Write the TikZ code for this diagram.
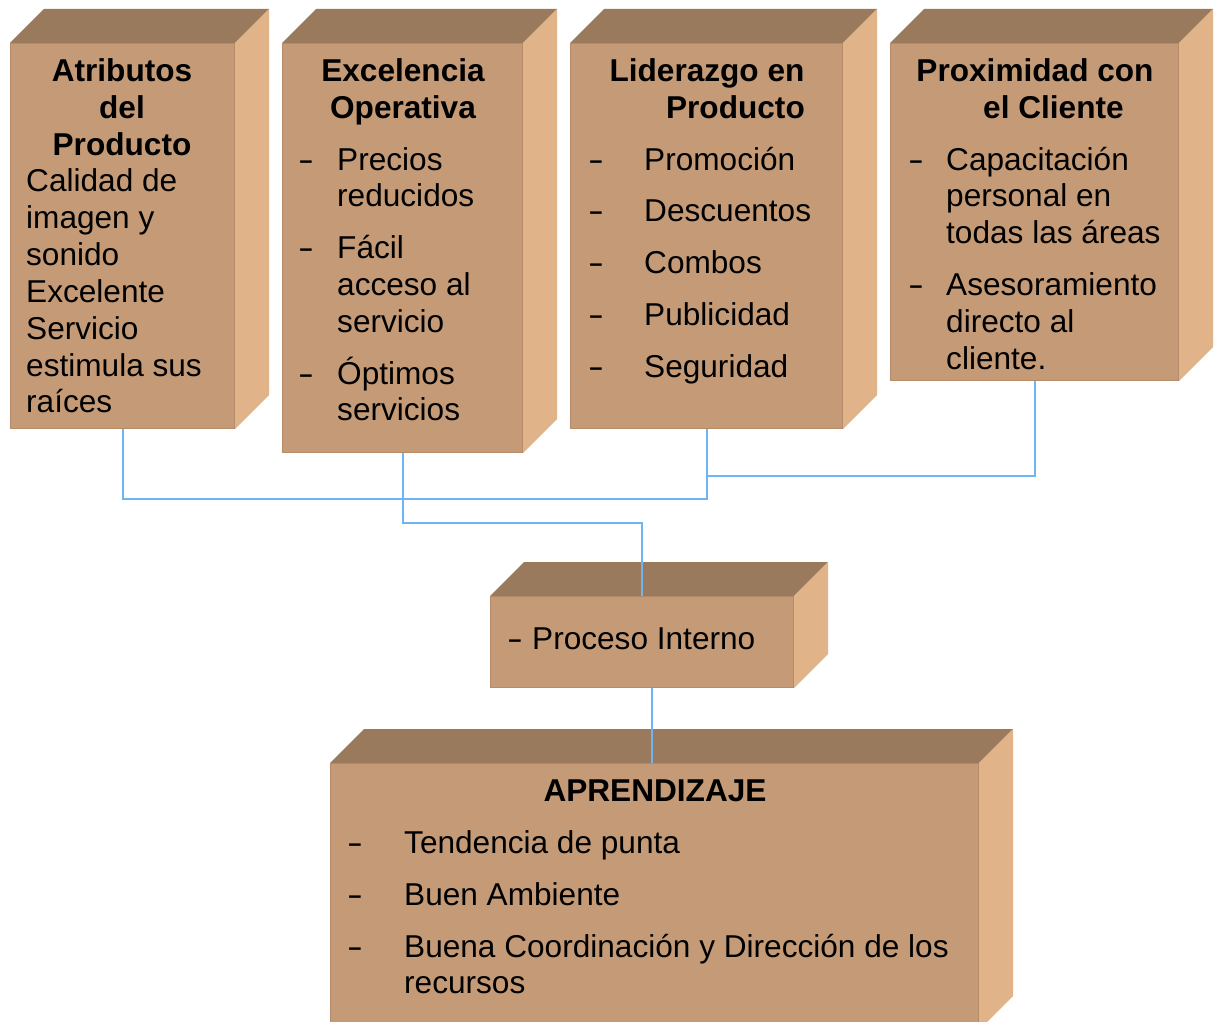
\documentclass[tikz,border=0pt]{standalone}
\usepackage{fontspec}
\setmainfont{Liberation Sans}
\definecolor{frontc}{RGB}{196,155,118}
\definecolor{topc}{RGB}{153,122,93}
\definecolor{sidec}{RGB}{224,179,137}
\definecolor{edgec}{RGB}{182,140,104}
\definecolor{linec}{RGB}{111,180,245}
\newcommand\boxfaces[1]{%
  \fill[topc] (#1.north west) -- ++(34,-34) -- ([shift={(34,-34)}]#1.north east) -- (#1.north east) -- cycle;
  \fill[sidec] (#1.north east) -- ++(34,-34) -- ([shift={(34,-34)}]#1.south east) -- (#1.south east) -- cycle;}
\tikzset{
  front/.style={fill=frontc, draw=edgec, line width=1pt, inner sep=0pt, anchor=north west},
  conn/.style={draw=linec, line width=2pt},
  txt/.style={anchor=base west, inner sep=0pt, font=\fontsize{31.6}{36}\selectfont},
  ttl/.style={anchor=base, inner sep=0pt, font=\fontsize{31.6}{36}\selectfont\bfseries},
  dsh/.style={anchor=base west, inner sep=0pt, font=\fontsize{31.6}{36}\selectfont},
}
\newcommand\dashmark{\scalebox{1.5}[1]{-}}
\begin{document}
\begin{tikzpicture}[x=1pt,y=-1pt]
\useasboundingbox (0,0) rectangle (1216,1022);
\begin{scope}
\clip (0,0) rectangle (1216,1022);
% boxes
\node[front, minimum width=224pt, minimum height=385pt] (b1) at (10,43) {};
\node[front, minimum width=240pt, minimum height=409pt] (b2) at (282,43) {};
\node[front, minimum width=272pt, minimum height=385pt] (b3) at (570,43) {};
\node[front, minimum width=288pt, minimum height=337pt] (b4) at (890,43) {};
\node[front, minimum width=303pt, minimum height=91pt] (p) at (490,596) {};
\node[front, minimum width=648pt, minimum height=266pt] (a) at (330,763) {};
\boxfaces{b1}\boxfaces{b2}\boxfaces{b3}\boxfaces{b4}\boxfaces{p}\boxfaces{a}
% connectors
\draw[conn] (b1.south) -- ++(0,70) -| (b3.south);
\coordinate (j34) at ([yshift=-47pt]b3.south);
\draw[conn] (b4.south) |- (j34);
\draw[conn] (b2.south) -- ++(0,70) -| (p.north);
\draw[conn] ([xshift=-3pt]a.north |- p.south) -- ([xshift=-3pt]a.north);
% box 1
\node[ttl] (t1a) at (122,81.5) {Atributos};
\node[ttl] (t1b) at (122,118.5) {del};
\node[ttl] (t1c) at (122,155.5) {Producto};
\node[txt] (t1d) at (26,192) {Calidad de};
\node[txt] (t1e) at (26,228.5) {imagen y};
\node[txt] (t1f) at (26,265.5) {sonido};
\node[txt] (t1g) at (26,302.5) {Excelente};
\node[txt] (t1h) at (26,339.5) {Servicio};
\node[txt] (t1i) at (26,376.5) {estimula sus};
\node[txt] (t1j) at (26,412.5) {raíces};
% box 2
\node[ttl] (t2a) at (403,81.5) {Excelencia};
\node[ttl] (t2b) at (403,118.5) {Operativa};
\node[dsh] (d2a) at (298,170.5) {\dashmark};
\node[txt] (t2c) at (337,170.5) {Precios};
\node[txt] (t2d) at (337,206.5) {reducidos};
\node[dsh] (d2b) at (298,258.5) {\dashmark};
\node[txt] (t2e) at (337,258.5) {Fácil};
\node[txt] (t2f) at (337,295.5) {acceso al};
\node[txt] (t2g) at (337,332.5) {servicio};
\node[dsh] (d2c) at (298,384.5) {\dashmark};
\node[txt] (t2h) at (337,384.5) {Óptimos};
\node[txt] (t2i) at (337,420.5) {servicios};
% box 3
\node[ttl] (t3a) at (707,81.5) {Liderazgo en};
\node[ttl, anchor=base east] (t3b) at (805,118.5) {Producto};
\node[dsh] (d3a) at (588,170.5) {\dashmark};
\node[txt] (t3c) at (644,170.5) {Promoción};
\node[dsh] (d3b) at (588,221.5) {\dashmark};
\node[txt] (t3d) at (644,221.5) {Descuentos};
\node[dsh] (d3c) at (588,273.5) {\dashmark};
\node[txt] (t3e) at (644,273.5) {Combos};
\node[dsh] (d3d) at (588,325.5) {\dashmark};
\node[txt] (t3f) at (644,325.5) {Publicidad};
\node[dsh] (d3e) at (588,377.5) {\dashmark};
\node[txt] (t3g) at (644,377.5) {Seguridad};
% box 4
\node[ttl] (t4a) at (1035,81.5) {Proximidad con};
\node[ttl, anchor=base west] (t4b) at (983,118.5) {el Cliente};
\node[dsh] (d4a) at (908,170.5) {\dashmark};
\node[txt] (t4c) at (946,170.5) {Capacitación};
\node[txt] (t4d) at (946,206.5) {personal en};
\node[txt] (t4e) at (946,243.5) {todas las áreas};
\node[dsh] (d4b) at (908,295.5) {\dashmark};
\node[txt] (t4f) at (946,295.5) {Asesoramiento};
\node[txt] (t4g) at (946,332.5) {directo al};
\node[txt] (t4h) at (946,369.5) {cliente.};
% proceso
\node[dsh] (dp) at (507,649.5) {\dashmark};
\node[txt] (tp) at (532,649.5) {Proceso Interno};
% aprendizaje
\node[ttl] (ta) at (655,801.5) {APRENDIZAJE};
\node[dsh] (da1) at (347,853.5) {\dashmark};
\node[txt] (ta1) at (404,853.5) {Tendencia de punta};
\node[dsh] (da2) at (347,905.5) {\dashmark};
\node[txt] (ta2) at (404,905.5) {Buen Ambiente};
\node[dsh] (da3) at (347,957.5) {\dashmark};
\node[txt] (ta3) at (404,957.5) {Buena Coordinación y Dirección de los};
\node[txt] (ta4) at (404,993.5) {recursos};
\end{scope}
\end{tikzpicture}
\end{document}
